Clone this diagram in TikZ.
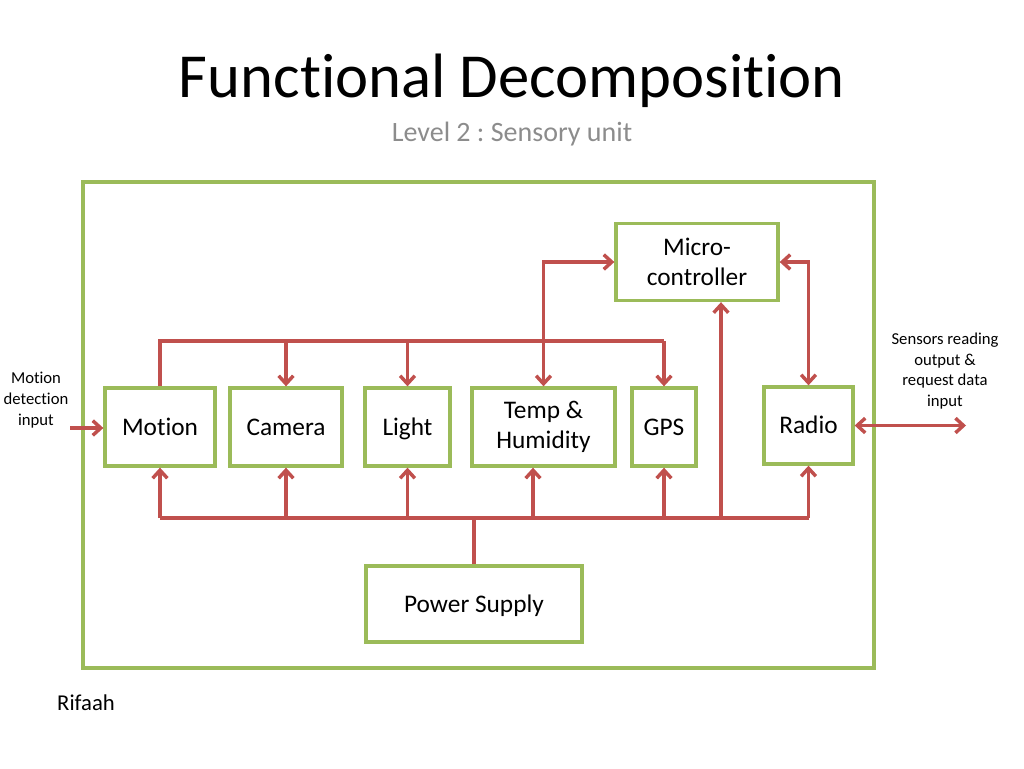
\documentclass[tikz,border=0pt]{standalone}
\usepackage{fontspec}
\setmainfont[Ligatures=NoCommon]{Carlito}
\frenchspacing
\usetikzlibrary{arrows.meta}
\definecolor{boxgreen}{HTML}{9BBB59}
\definecolor{linered}{HTML}{C0504D}
\definecolor{subgray}{HTML}{8C8C8C}
\tikzset{
  box/.style={draw=boxgreen, line width=2.5pt, fill=white, align=center, inner sep=0pt, font=\fontsize{19}{23}\selectfont},
  oneline/.style={text height=12.4pt, text depth=0pt},
  wire/.style={draw=linered, line width=2.6pt},
  arr/.style={wire, -{Straight Barb[length=6pt,width=11pt]}},
  darr/.style={wire, {Straight Barb[length=6pt,width=11pt]}-{Straight Barb[length=6pt,width=11pt]}},
  side/.style={align=center, font=\fontsize{12.5}{15.5}\selectfont}
}
\begin{document}
\begin{tikzpicture}[x=0.75pt,y=-0.75pt]
\useasboundingbox (0,0) rectangle (1024,768);
% titles
\node (title) at (512,81) {\fontsize{47}{56}\selectfont Functional Decomposition};
\node[text=subgray] (sub) at (512,134) {\fontsize{21}{25}\selectfont Level 2 : Sensory unit};
% outer frame
\draw[draw=boxgreen, line width=2.5pt] (83,182) rectangle (874,668);
% boxes
\node[box, minimum width=121.5pt, minimum height=57.75pt] (micro) at (697,262) {Micro-\\controller};
\node[box, oneline, minimum width=82.5pt, minimum height=58.5pt] (motion) at (160,427) {Motion};
\node[box, oneline, minimum width=84pt, minimum height=58.5pt] (camera) at (286,427) {Camera};
\node[box, oneline, minimum width=63.75pt, minimum height=58.5pt] (light) at (407.5,427) {Light};
\node[box, minimum width=107.25pt, minimum height=58.5pt] (temp) at (543.5,427) {Temp \&\\Humidity};
\node[box, oneline, minimum width=48pt, minimum height=58.5pt] (gps) at (664,427) {GPS};
\node[box, oneline, minimum width=66.75pt, minimum height=57.75pt] (radio) at (808.5,425.5) {Radio};
\node[box, oneline, minimum width=162pt, minimum height=57pt] (power) at (474,604) {Power Supply};
% side texts
\node[side] (intext) at (36,400) {Motion\\detection\\input};
\node[side] (outtext) at (945,371) {Sensors reading\\output \&\\request data\\input};
\node[font=\fontsize{17}{20}\selectfont] (author) at (86,703) {Rifaah};
% coordinates
\coordinate (tb) at (0,341);
\coordinate (bb) at (0,518);
\coordinate (tx) at (533,0);
\coordinate (mx) at (721,0);
\coordinate (in) at (70,428);
\coordinate (out) at (966,0);
% top bus
\draw[wire] (motion.north) -- (motion.north |- tb) -- (gps.north |- tb);
\draw[arr] (camera.north |- tb) -- (camera.north);
\draw[arr] (light.north |- tb) -- (light.north);
\draw[arr] (gps.north |- tb) -- (gps.north);
\draw[darr] (micro.west) -| (temp.north);
\draw[darr] (micro.east) -| (radio.north);
% bottom bus
\draw[wire] (motion.south |- bb) -- (radio.south |- bb);
\draw[wire] (power.north) -- (power.north |- bb);
\draw[arr] (motion.south |- bb) -- (motion.south);
\draw[arr] (camera.south |- bb) -- (camera.south);
\draw[arr] (light.south |- bb) -- (light.south);
\draw[arr] (tx |- bb) -- (tx |- temp.south);
\draw[arr] (gps.south |- bb) -- (gps.south);
\draw[arr] (mx |- bb) -- (mx |- micro.south);
\draw[arr] (radio.south |- bb) -- (radio.south);
% external
\draw[arr] (in) -- (in -| motion.west);
\draw[darr] (radio.east) -- (radio.east -| out);
\end{tikzpicture}
\end{document}
